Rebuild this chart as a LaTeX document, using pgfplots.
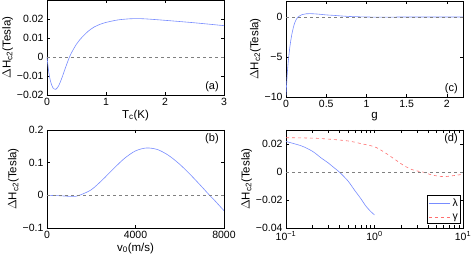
\documentclass[border=0pt]{standalone}
\usepackage{pgfplots}
\pgfplotsset{compat=1.18}
\usepackage{fontspec}
\setmainfont{Liberation Sans}
\definecolor{lblue}{RGB}{120,140,255}
\definecolor{lred}{RGB}{255,110,110}
\pgfplotsset{
  every axis/.style={scale only axis, anchor=south west, width=177pt,
    /pgf/number format/assume math mode=true,
    scaled ticks=false,
    tick label style={font=\fontsize{10.5}{12}\selectfont},
    label style={font=\fontsize{11.5}{13}\selectfont},
    axis line style={line width=0.5pt},
    tick style={black, line width=0.4pt},
    major tick length=3pt,
    ylabel={$\Delta$H\textsubscript{c2}(Tesla)},
    ylabel style={yshift=-3pt},
    xlabel style={yshift=3pt},
  },
}
\begin{document}
\begin{tikzpicture}
\path[use as bounding box] (0,0) rectangle (471pt,259pt);
% (a)
\begin{axis}[at={(47pt,164pt)}, height=95pt,
  xmin=0, xmax=3, ymin=-0.02, ymax=0.03,
  xtick={0,1,2,3}, ytick={-0.02,-0.01,0,0.01,0.02},
  yticklabels={−0.02,−0.01,0,0.01,0.02},
  xlabel={T\textsubscript{c}(K)}]
\addplot[lblue, line width=0.6pt, smooth] coordinates {(0,0) (0.03,-0.008) (0.06,-0.0128) (0.1,-0.0162) (0.15,-0.0170) (0.2,-0.0150) (0.25,-0.0112) (0.3,-0.0068) (0.35,-0.0025) (0.4,0.0013) (0.5,0.0068) (0.6,0.0106) (0.7,0.0136) (0.8,0.0158) (0.9,0.0172) (1.0,0.0182) (1.2,0.0195) (1.4,0.0201) (1.55,0.0202) (1.7,0.0200) (2.0,0.0193) (2.5,0.0180) (3.0,0.0165)};
\addplot[gray, dashed, line width=0.5pt] coordinates {(0,0) (3,0)};
\node[anchor=south east, font=\fontsize{11}{12}\selectfont] at (rel axis cs:0.99,0.0) {(a)};
\end{axis}
% (c)
\begin{axis}[at={(286pt,162pt)}, height=96pt,
  xmin=0, xmax=2.2, ymin=-10, ymax=2,
  xtick={0,0.5,1,1.5,2}, ytick={-10,-5,0},
  yticklabels={−10,−5,0},
  xlabel={g}]
\addplot[lblue, line width=0.6pt, smooth] coordinates {(0,-9.8) (0.01,-8.0) (0.02,-6.5) (0.04,-4.4) (0.06,-2.9) (0.08,-1.8) (0.1,-1.0) (0.12,-0.45) (0.15,0.0) (0.2,0.3) (0.25,0.4) (0.3,0.42) (0.4,0.36) (0.5,0.26) (0.6,0.2) (0.7,0.12) (0.8,0.06) (0.9,0.03) (1.0,0.0) (1.2,-0.02) (1.5,0) (2.2,0)};
\addplot[gray, dashed, line width=0.5pt] coordinates {(0,0) (2.2,0)};
\node[anchor=south east, font=\fontsize{11}{12}\selectfont] at (rel axis cs:0.99,0.0) {(c)};
\end{axis}
% (b)
\begin{axis}[at={(47pt,31pt)}, height=98pt,
  xmin=0, xmax=8000, ymin=-0.1, ymax=0.2,
  xtick={0,4000,8000}, xticklabels={0,4000,8000},
  ytick={-0.1,0,0.1,0.2}, yticklabels={−0.1,0,0.1,0.2},
  xlabel={v\textsubscript{0}(m/s)}]
\addplot[lblue, line width=0.6pt, smooth] coordinates {(0,0) (500,-0.001) (1000,-0.003) (1300,-0.003) (1500,0.001) (2000,0.017) (2500,0.047) (3000,0.081) (3500,0.113) (4000,0.136) (4500,0.145) (5000,0.140) (5500,0.122) (6000,0.095) (6500,0.062) (7000,0.026) (7350,0) (7500,-0.010) (8000,-0.047)};
\addplot[gray, dashed, line width=0.5pt] coordinates {(0,0) (8000,0)};
\node[anchor=north east, font=\fontsize{11}{12}\selectfont] at (rel axis cs:0.99,1.0) {(b)};
\end{axis}
% (d)
\begin{axis}[at={(286pt,31pt)}, height=98pt, xmode=log,
  xmin=0.1, xmax=10, ymin=-0.04, ymax=0.03,
  xtick={0.1,1,10}, xticklabels={10\textsuperscript{−1},10\textsuperscript{0},10\textsuperscript{1}},
  ytick={-0.04,-0.02,0,0.02}, yticklabels={−0.04,−0.02,0,0.02},
  xlabel={},
  legend style={at={(0.99,0.04)}, anchor=south east, font=\fontsize{10.5}{12}\selectfont, draw=black, line width=0.8pt, inner sep=1pt, row sep=2pt},
  legend image post style={line width=0.6pt},
  legend image code/.code={\draw[#1] (0cm,0cm) -- (0.75cm,0cm);},
  legend cell align=left]
\addplot[lblue, line width=0.6pt, smooth] coordinates {(0.1,0.0218) (0.15,0.0186) (0.2,0.0147) (0.25,0.0100) (0.3,0.0065) (0.35,0.0030) (0.4,0.0) (0.5,-0.0063) (0.6,-0.0133) (0.7,-0.0190) (0.8,-0.0244) (0.9,-0.0280) (1.0,-0.0307)};
\addlegendentry{λ}
\addplot[lred, dashed, line width=0.6pt, smooth] coordinates {(0.1,0.0245) (0.2,0.0242) (0.3,0.0235) (0.5,0.0222) (0.7,0.0203) (1,0.0180) (1.3,0.0140) (1.7,0.0090) (2.2,0.0042) (2.8,0.0012) (3.5,0.0) (4.5,-0.0022) (6,-0.0033) (8,-0.0025) (10,-0.0016)};
\addlegendentry{γ}
\addplot[gray, dashed, line width=0.5pt, forget plot] coordinates {(0.1,0) (10,0)};
\node[anchor=north east, font=\fontsize{11}{12}\selectfont] at (rel axis cs:0.99,1.0) {(d)};
\end{axis}
\end{tikzpicture}
\end{document}
